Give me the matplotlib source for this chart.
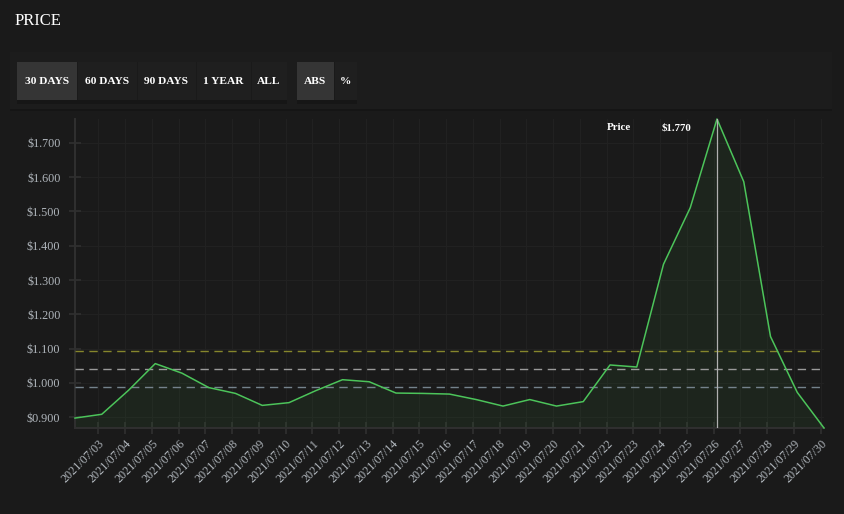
import numpy as np
import pandas as pd
import matplotlib
matplotlib.use("Agg")
import matplotlib.pyplot as plt
import matplotlib.dates as mdates
from matplotlib.patches import Rectangle
from matplotlib.ticker import FuncFormatter

plt.rcParams['font.family'] = ['Liberation Serif', 'DejaVu Serif']

# daily price samples (taken ~03:00 each day)
dates = pd.date_range("2021-07-02 03:00", periods=29, freq="D")
price = [0.897, 0.908, 0.978, 1.056, 1.028, 0.986, 0.969, 0.934, 0.942, 0.977,
         1.009, 1.003, 0.970, 0.969, 0.967, 0.951, 0.932, 0.951, 0.932, 0.945,
         1.052, 1.046, 1.346, 1.511, 1.770, 1.587, 1.135, 0.972, 0.868]
tick_days = pd.date_range("2021-07-03", "2021-07-30", freq="D")
y_ticks = [0.9, 1.0, 1.1, 1.2, 1.3, 1.4, 1.5, 1.6, 1.7]
band_levels = [1.093, 1.040, 0.988]
band_colors = ["#86862c", "#9a9a9a", "#74828c"]
range_buttons = ["30 DAYS", "60 DAYS", "90 DAYS", "1 YEAR", "ALL"]
mode_buttons = ["ABS", "%"]
hover_idx = 24

bg = "#1a1a1a"
W, H = 844, 514
fig = plt.figure(figsize=(W / 100, H / 100), dpi=100, facecolor=bg)


def fx(x):
    return x / W


def fy(y):
    return 1 - y / H


def box(x0, y0, x1, y1, color, z=1):
    r = Rectangle((fx(x0), fy(y1)), fx(x1) - fx(x0), fy(y0) - fy(y1),
                  transform=fig.transFigure, facecolor=color, edgecolor="none", zorder=z)
    fig.add_artist(r)


fig.text(fx(15), fy(21), "PRICE", color="white", fontsize=12, va="center", ha="left")

# toolbar card
box(10, 108, 832, 111, "#151515", 0)
box(10, 52, 832, 109, "#1c1c1c", 1)

# button groups
edges1 = [17, 77, 137, 196, 251, 287]
edges2 = [297, 334, 357]
box(17, 100, 287, 104, "#161616", 2)
box(297, 100, 357, 104, "#161616", 2)
box(17, 62, 287, 100, "#1f1f1f", 3)
box(297, 62, 357, 100, "#1f1f1f", 3)
box(edges1[0], 62, edges1[1], 100, "#353535", 4)
box(edges2[0], 62, edges2[1], 100, "#353535", 4)
for e in edges1[1:-1]:
    box(e, 62, e + 1, 100, "#1a1a1a", 5)
box(edges2[1], 62, edges2[1] + 1, 100, "#1a1a1a", 5)
for i, lab in enumerate(range_buttons):
    fig.text(fx((edges1[i] + edges1[i + 1]) / 2), fy(81), lab, color="white",
             fontsize=8.2, fontweight="bold", ha="center", va="center", zorder=6)
for i, lab in enumerate(mode_buttons):
    fig.text(fx((edges2[i] + edges2[i + 1]) / 2), fy(81), lab, color="white",
             fontsize=8.2, fontweight="bold", ha="center", va="center", zorder=6)

# chart
ax = fig.add_axes([fx(75), fy(428), fx(824) - fx(75), fy(119) - fy(428)])
ax.set_facecolor(bg)
ax.plot(dates, price, color="#4cc45a", lw=1.1, zorder=4, clip_on=False)
ax.fill_between(dates, price, min(price), color="#3c8a3c", alpha=0.10, lw=0, zorder=2)
for lvl, c in zip(band_levels, band_colors):
    ax.axhline(lvl, color=c, lw=1, ls=(0, (6, 4)), zorder=3)
ax.axvline(dates[hover_idx], color="#b0b0b0", lw=0.9, zorder=5)

ax.set_xlim(dates[0], dates[-1])
ax.set_ylim(min(price), max(price))
ax.set_xticks(tick_days)
ax.xaxis.set_major_formatter(mdates.DateFormatter("%Y/%m/%d"))
ax.set_yticks(y_ticks)
ax.yaxis.set_major_formatter(FuncFormatter(lambda v, p: "${:.3f}".format(v)))
ax.grid(True, color="#212121", lw=0.8, zorder=0)
for s in ["top", "right"]:
    ax.spines[s].set_visible(False)
for s in ["left", "bottom"]:
    ax.spines[s].set_color("#303030")
    ax.spines[s].set_linewidth(1.4)
ax.tick_params(axis="both", direction="inout", color="#303030", width=1.2,
               labelcolor="#b0b6bc", labelsize=8.7)
ax.tick_params(axis="y", length=9, pad=6)
ax.tick_params(axis="x", length=8, pad=3)
for t in ax.get_xticklabels():
    t.set_rotation(45)
    t.set_ha("right")
    t.set_rotation_mode("anchor")

# hover tooltip
fig.text(fx(607), fy(128), "Price", color="white", fontsize=7.8, fontweight="semibold",
         ha="left", va="center")
fig.text(fx(662), fy(128), "${:.3f}".format(price[hover_idx]), color="white",
         fontsize=7.8, fontweight="semibold", ha="left", va="center")

fig.savefig("out.png", dpi=100, facecolor=bg)
